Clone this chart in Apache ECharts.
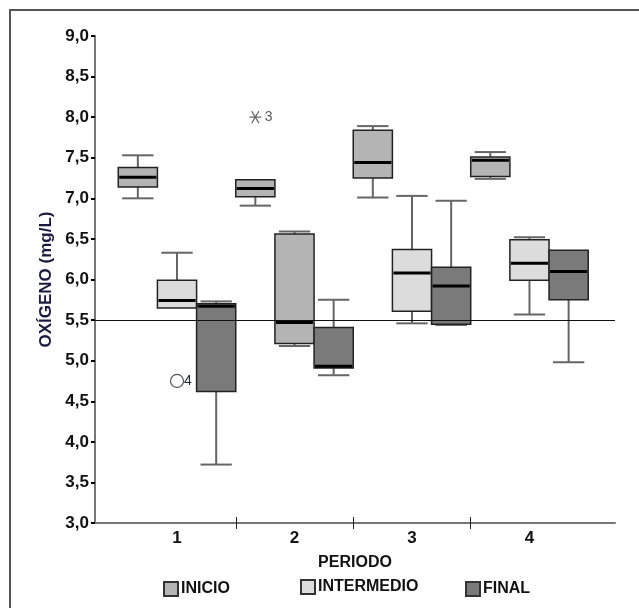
<!DOCTYPE html>
<html>
<head>
<meta charset="utf-8">
<script src="https://cdn.jsdelivr.net/npm/echarts@6/dist/echarts.min.js"></script>
<style>
  html, body { margin: 0; padding: 0; background: #fff; }
  #chart { width: 639px; height: 608px; }
</style>
</head>
<body>
<div id="chart"></div>
<script>
// periodos y grupos
const periods = [1, 2, 3, 4];
const groupNames = ['INICIO', 'INTERMEDIO', 'FINAL'];
const groupColors = ['#b4b4b4', '#dcdcdc', '#7a7a7a'];

// [min, q1, mediana, q3, max] por periodo
const inicio = [
  [7.00, 7.14, 7.26, 7.38, 7.53],
  [6.91, 7.02, 7.12, 7.23, 7.23],
  [7.01, 7.25, 7.44, 7.84, 7.89],
  [7.24, 7.27, 7.47, 7.51, 7.57]
];
const intermedio = [
  [5.65, 5.65, 5.74, 5.99, 6.33],
  [5.18, 5.21, 5.47, 6.56, 6.59],
  [5.46, 5.61, 6.08, 6.37, 7.03],
  [5.57, 5.99, 6.20, 6.49, 6.52]
];
const final = [
  [3.72, 4.62, 5.67, 5.70, 5.73],
  [4.82, 4.91, 4.93, 5.41, 5.75],
  [5.44, 5.45, 5.92, 6.15, 6.97],
  [4.98, 5.75, 6.10, 6.36, 6.36]
];

// valores atipicos: periodo, grupo, valor, etiqueta
const outlierCircle = { period: 1, group: 1, value: 4.75, label: '4' };
const outlierStar = { period: 2, group: 0, value: 8.0, label: '3' };

const yTicks = [3, 9, 0.5];
const limite = 5.5;

const offsets = [-1 / 3, 0, 1 / 3];
const boxUnit = 1 / 3;
const font = 'Liberation Sans, Arial, sans-serif';

function makeRender(off) {
  return function (params, api) {
    const x = api.value(0) + off;
    const cx = api.coord([x, 0])[0];
    const w = api.size([boxUnit, 0])[0];
    const capW = w * 0.8;
    const y = i => api.coord([x, api.value(i)])[1];
    const yMin = y(1), yQ1 = y(2), yMed = y(3), yQ3 = y(4), yMax = y(5);
    const wStyle = { stroke: '#666', lineWidth: 2 };
    const children = [];
    if (api.value(5) > api.value(4)) {
      children.push({ type: 'line', shape: { x1: cx, y1: yMax, x2: cx, y2: yQ3 }, style: wStyle });
      children.push({ type: 'line', shape: { x1: cx - capW / 2, y1: yMax, x2: cx + capW / 2, y2: yMax }, style: wStyle });
    }
    if (api.value(1) < api.value(2)) {
      children.push({ type: 'line', shape: { x1: cx, y1: yMin, x2: cx, y2: yQ1 }, style: wStyle });
      children.push({ type: 'line', shape: { x1: cx - capW / 2, y1: yMin, x2: cx + capW / 2, y2: yMin }, style: wStyle });
    }
    children.push({
      type: 'rect',
      shape: { x: cx - w / 2, y: yQ3, width: w, height: yQ1 - yQ3 },
      style: { fill: api.visual('color'), stroke: '#222', lineWidth: 1.5 }
    });
    children.push({
      type: 'line',
      shape: { x1: cx - w / 2 + 1, y1: yMed, x2: cx + w / 2 - 1, y2: yMed },
      style: { stroke: '#000', lineWidth: 3 }
    });
    return { type: 'group', children: children };
  };
}

const groupData = [inicio, intermedio, final];

const boxSeries = groupNames.map((name, g) => ({
  name: name,
  type: 'custom',
  renderItem: makeRender(offsets[g]),
  itemStyle: { color: groupColors[g], borderColor: '#333', borderWidth: 1 },
  encode: { x: 0, y: [1, 2, 3, 4, 5] },
  data: periods.map((p, i) => {
    const item = { value: [p].concat(groupData[g][i]) };
    // en el periodo 2 la caja intermedia aparece con el gris de INICIO
    if (g === 1 && p === 2) item.itemStyle = { color: groupColors[0] };
    return item;
  }),
  z: 3
}));

const chart = echarts.init(document.getElementById('chart'));

chart.setOption({
  backgroundColor: '#fff',
  animation: false,
  graphic: [{
    type: 'polyline',
    shape: { points: [[10, 620], [10, 10], [650, 10]] },
    style: { stroke: '#555', lineWidth: 2, fill: 'none' }
  }],
  legend: [
    { left: 163, top: 581, data: ['INICIO'] },
    { left: 300, top: 579, data: ['INTERMEDIO'] },
    { left: 465, top: 581, data: ['FINAL'] }
  ].map(l => Object.assign(l, {
    padding: 0,
    icon: 'rect', itemWidth: 14, itemHeight: 14, itemGap: 5, selectedMode: false,
    textStyle: { fontFamily: font, fontWeight: 'bold', fontSize: 16, color: '#111', padding: [0, 0, 0, -2] }
  })),
  grid: { left: 95, right: 24, top: 36, bottom: 85 },
  xAxis: [{
    type: 'value', min: 0.302, max: 4.728,
    axisLine: { lineStyle: { color: '#777', width: 2 } },
    axisTick: { show: true, customValues: [1.5, 2.5, 3.5], length: 6, lineStyle: { color: '#222', width: 1 } },
    axisLabel: {
      customValues: periods, fontFamily: font, fontWeight: 'bold', fontSize: 17, color: '#111', margin: 7,
      formatter: v => String(Math.round(v))
    },
    splitLine: { show: false },
    name: 'PERIODO', nameLocation: 'middle', nameGap: 32,
    nameTextStyle: { fontFamily: font, fontWeight: 'bold', fontSize: 16, color: '#111' }
  }, {
    type: 'value', min: 0.302, max: 4.728, position: 'bottom',
    axisLine: { show: false },
    axisTick: { show: true, inside: true, customValues: [1.5, 2.5, 3.5], length: 6, lineStyle: { color: '#222', width: 1 } },
    axisLabel: { show: false },
    splitLine: { show: false }
  }],
  yAxis: {
    type: 'value', min: yTicks[0], max: yTicks[1], interval: yTicks[2],
    axisLine: { show: true, lineStyle: { color: '#777', width: 2 } },
    axisTick: { show: true, length: 4, lineStyle: { color: '#000', width: 2 } },
    axisLabel: {
      fontFamily: font, fontWeight: 'bold', fontSize: 17, color: '#111', margin: 6,
      formatter: v => v.toFixed(1).replace('.', ',')
    },
    splitLine: { show: false },
    name: 'OXÍGENO (mg/L)', nameLocation: 'middle', nameGap: 38, nameRotate: 90,
    nameTextStyle: { fontFamily: font, fontWeight: 'bold', fontSize: 17, color: '#1a1a40' }
  },
  series: boxSeries.concat([{
    name: 'limite',
    type: 'line',
    data: [],
    markLine: {
      silent: true, symbol: 'none', label: { show: false },
      lineStyle: { color: '#111', width: 1, type: 'solid' },
      data: [{ yAxis: limite }]
    },
    z: 4
  }, {
    name: 'atipico4',
    type: 'scatter',
    symbol: 'circle',
    symbolSize: 13,
    itemStyle: { color: '#fff', borderColor: '#555', borderWidth: 1.2, opacity: 1 },
    label: {
      show: true, position: 'right', distance: 0, formatter: outlierCircle.label,
      fontFamily: font, fontSize: 14, color: '#223'
    },
    data: [[outlierCircle.period + offsets[outlierCircle.group], outlierCircle.value]],
    z: 5
  }, {
    name: 'atipico3',
    type: 'scatter',
    symbol: 'path://M0,5L10,5M2,0L8,10M8,0L2,10',
    symbolSize: 12,
    itemStyle: { color: 'none', borderColor: '#444', borderWidth: 1.2 },
    label: {
      show: true, position: 'right', distance: 1, formatter: outlierStar.label,
      fontFamily: font, fontSize: 14, color: '#333'
    },
    data: [[outlierStar.period + offsets[outlierStar.group], outlierStar.value]],
    z: 5
  }])
});
</script>
</body>
</html>
